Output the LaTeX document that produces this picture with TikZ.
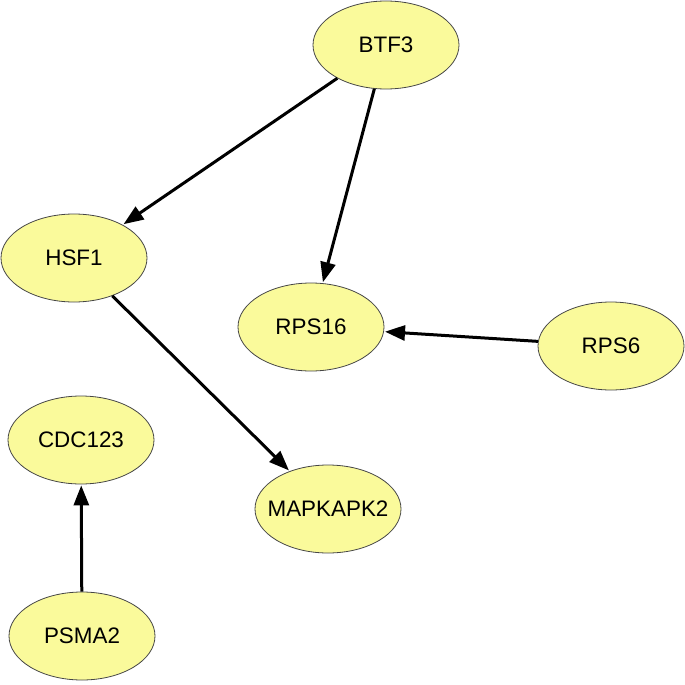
\documentclass[tikz,border=0pt]{standalone}
\usepackage{fontspec}
\setmainfont{Liberation Sans}
\usetikzlibrary{shapes.geometric,arrows.meta}
\definecolor{nodefill}{RGB}{250,250,155}
\definecolor{nodeline}{RGB}{70,70,70}
\newcommand{\gtxt}[1]{\makebox[0pt]{#1}}
\tikzset{
  gene/.style={ellipse, draw=nodeline, line width=0.8bp, fill=nodefill,
    minimum width=146bp, minimum height=88bp, inner sep=0pt,
    font=\fontsize{22.5}{26}\selectfont},
  edge/.style={draw=black, line width=3bp,
    -{Triangle[length=20bp,width=15bp]}, shorten >=1bp}
}
\begin{document}
\begin{tikzpicture}[x=1bp,y=-1bp]
\useasboundingbox (0,0) rectangle (685,685);
\node[gene] (btf3) at (386,45) {\gtxt{BTF3}};
\node[gene] (hsf1) at (74,258) {\gtxt{HSF1}};
\node[gene] (rps16) at (311,327) {\gtxt{RPS16}};
\node[gene] (rps6) at (611,346) {\gtxt{RPS6}};
\node[gene] (cdc123) at (81,440) {\gtxt{CDC123}};
\node[gene] (mapkapk2) at (328,509) {\gtxt{MAPKAPK2}};
\node[gene] (psma2) at (82,636) {\gtxt{PSMA2}};
\draw[edge] (btf3) -- (hsf1);
\draw[edge] (btf3) -- (rps16);
\draw[edge] (rps6) -- (rps16);
\draw[edge] (hsf1) -- (mapkapk2);
\draw[edge] (psma2) -- (cdc123);
\end{tikzpicture}
\end{document}
